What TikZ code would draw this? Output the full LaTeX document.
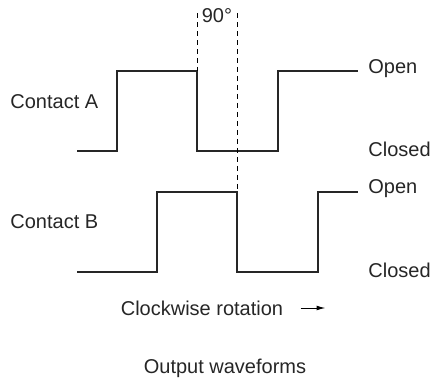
\documentclass[tikz,border=0pt]{standalone}
\usepackage{fontspec}
\setmainfont{Liberation Sans}
\usetikzlibrary{
    positioning,
    arrows.meta
    }

\begin{document}
\begin{tikzpicture}[x=0.5pt, y=-0.5pt]
\tikzset{wave/.style =
        {
            line width=1pt,
            black!85,
            line join=miter
        }
}

\tikzset{phase/.style =
        {
            line width=0.5pt,
            dash pattern=on 2.5pt off 2pt
        }
}

\tikzset{lab/.style =
        {
            font=\fontsize{10}{12}\selectfont,
            text=black!85,
            inner sep=0pt
        }
}

\tikzset{state/.style =
        {
            lab,
            anchor=west
        }
}

\tikzset{turn/.style = {
            line width=0.5pt,
            -{Latex[length=4.5pt, width=2.4pt]}
        }
}
		\useasboundingbox (0,0) rectangle (435,380);

		% waveforms
		\draw [wave] (77,151) -- (117,151) -- (117,71) -- (197,71) -- (197,151)
			-- (278,151) -- (278,71) -- (358,71);
		\draw [wave] (77,272) -- (157,272) -- (157,192) -- (237,192) -- (237,272)
			-- (318,272) -- (318,192) -- (358,192);

		% 90 degree marks
		\draw [phase] (197,13) -- (197,71);
		\draw [phase] (237,13) -- (237,192);
		\node [lab] (deg) at (217,16) {90°};

		\node [lab, anchor=west] (contact-A) at (10,102) {Contact A};
		\node [lab, anchor=west] (contact-B) at (10,222) {Contact B};

		\foreach \name / \y / \txt in
			{open-A/69/Open,
				closed-A/149/Closed,
				open-B/189/Open,
				closed-B/270/Closed}
		\node [state] at (368,\y) (\name) {\txt};

		\node [lab] (rot) at (202,308) {Clockwise rotation};
		\coordinate [right=21pt of rot] (rot-end);
		\draw [turn] ([xshift=8.5pt]rot.east) -- (rot-end);

		\node [lab] (title) at (225,368) {Output waveforms};

	\end{tikzpicture}
\end{document}
